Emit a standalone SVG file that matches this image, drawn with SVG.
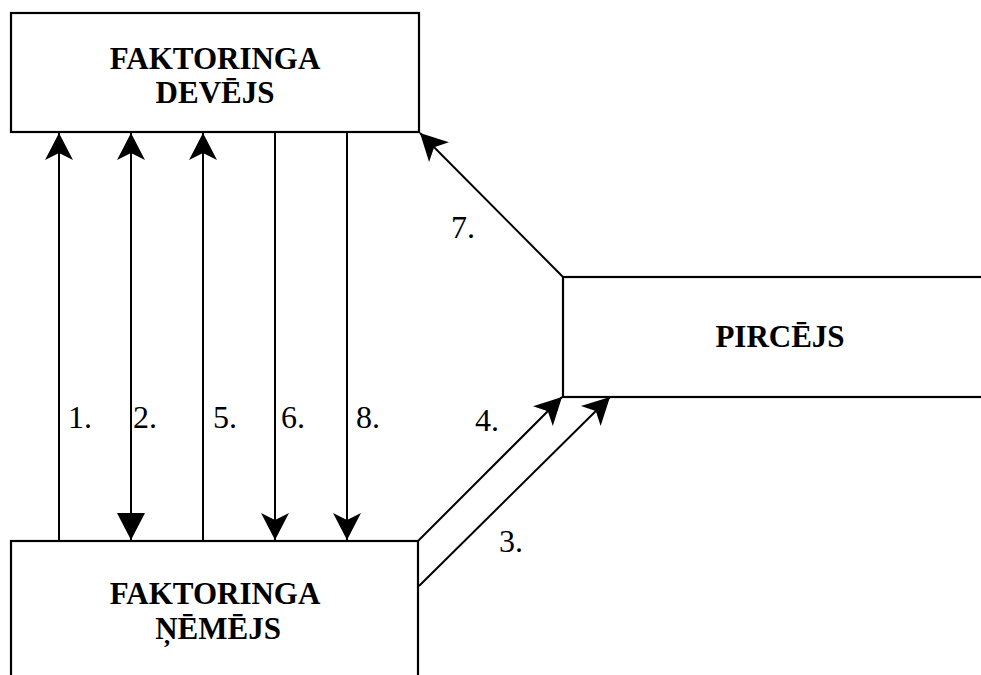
<svg xmlns="http://www.w3.org/2000/svg" width="981" height="675" viewBox="0 0 981 675">
  <style>
    .box { fill: #ffffff; stroke: #000000; stroke-width: 2.2; }
    .title { font-weight: bold; font-size: 31px; text-anchor: middle; fill: #000000; }
    .num { font-size: 32px; fill: #000000; }
    .link { fill: none; stroke: #000000; stroke-width: 2; }
    .head { marker-end: url(#barb); }
  </style>
  <defs>
    <!-- barbed (notched) arrowhead -->
    <marker id="barb" markerUnits="userSpaceOnUse" markerWidth="40" markerHeight="40" refX="0" refY="0" orient="auto-start-reverse" overflow="visible">
      <path d="M0,0 L-27,-14 L-20,0 L-27,14 Z" fill="#000000"/>
    </marker>
    <!-- solid triangular arrowhead -->
    <marker id="tri" markerUnits="userSpaceOnUse" markerWidth="40" markerHeight="40" refX="0" refY="0" orient="auto" overflow="visible">
      <path d="M0,0 L-27,-14 L-27,14 Z" fill="#000000"/>
    </marker>
  </defs>

  <g id="connectors">
    <!-- 1. up -->
    <line class="link head" x1="59" y1="541" x2="59" y2="133"/>
    <!-- 2. both ways -->
    <line class="link" x1="131" y1="133" x2="131" y2="540" marker-start="url(#barb)" marker-end="url(#tri)"/>
    <!-- 5. up -->
    <line class="link head" x1="203" y1="541" x2="203" y2="133"/>
    <!-- 6. down -->
    <line class="link head" x1="275" y1="132" x2="275" y2="540"/>
    <!-- 8. down -->
    <line class="link head" x1="347" y1="132" x2="347" y2="540"/>
    <!-- 7. buyer to factor -->
    <line class="link head" x1="563" y1="277" x2="420" y2="133"/>
    <!-- 4. client to buyer -->
    <line class="link head" x1="418" y1="541" x2="562" y2="397"/>
    <!-- 3. client to buyer -->
    <line class="link head" x1="419" y1="586" x2="610" y2="397"/>

    <text class="num" font-family="Liberation Serif" x="68" y="428">1.</text>
    <text class="num" font-family="Liberation Serif" x="133" y="428">2.</text>
    <text class="num" font-family="Liberation Serif" x="213" y="428">5.</text>
    <text class="num" font-family="Liberation Serif" x="281" y="428">6.</text>
    <text class="num" font-family="Liberation Serif" x="356" y="428">8.</text>
    <text class="num" font-family="Liberation Serif" x="451" y="238">7.</text>
    <text class="num" font-family="Liberation Serif" x="475" y="431">4.</text>
    <text class="num" font-family="Liberation Serif" x="499" y="552">3.</text>
  </g>

  <g id="factor">
    <rect class="box" x="11" y="13" width="408" height="119"/>
    <text class="title" font-family="Liberation Serif" x="215" y="69">FAKTORINGA</text>
    <text class="title" font-family="Liberation Serif" x="215" y="103">DEVĒJS</text>
  </g>

  <g id="client">
    <rect class="box" x="11" y="541" width="407" height="150"/>
    <text class="title" font-family="Liberation Serif" x="215" y="604">FAKTORINGA</text>
    <text class="title" font-family="Liberation Serif" x="218" y="639">ŅĒMĒJS</text>
  </g>

  <g id="buyer">
    <rect class="box" x="563" y="277" width="430" height="120"/>
    <text class="title" font-family="Liberation Serif" x="780" y="347">PIRCĒJS</text>
  </g>
</svg>
